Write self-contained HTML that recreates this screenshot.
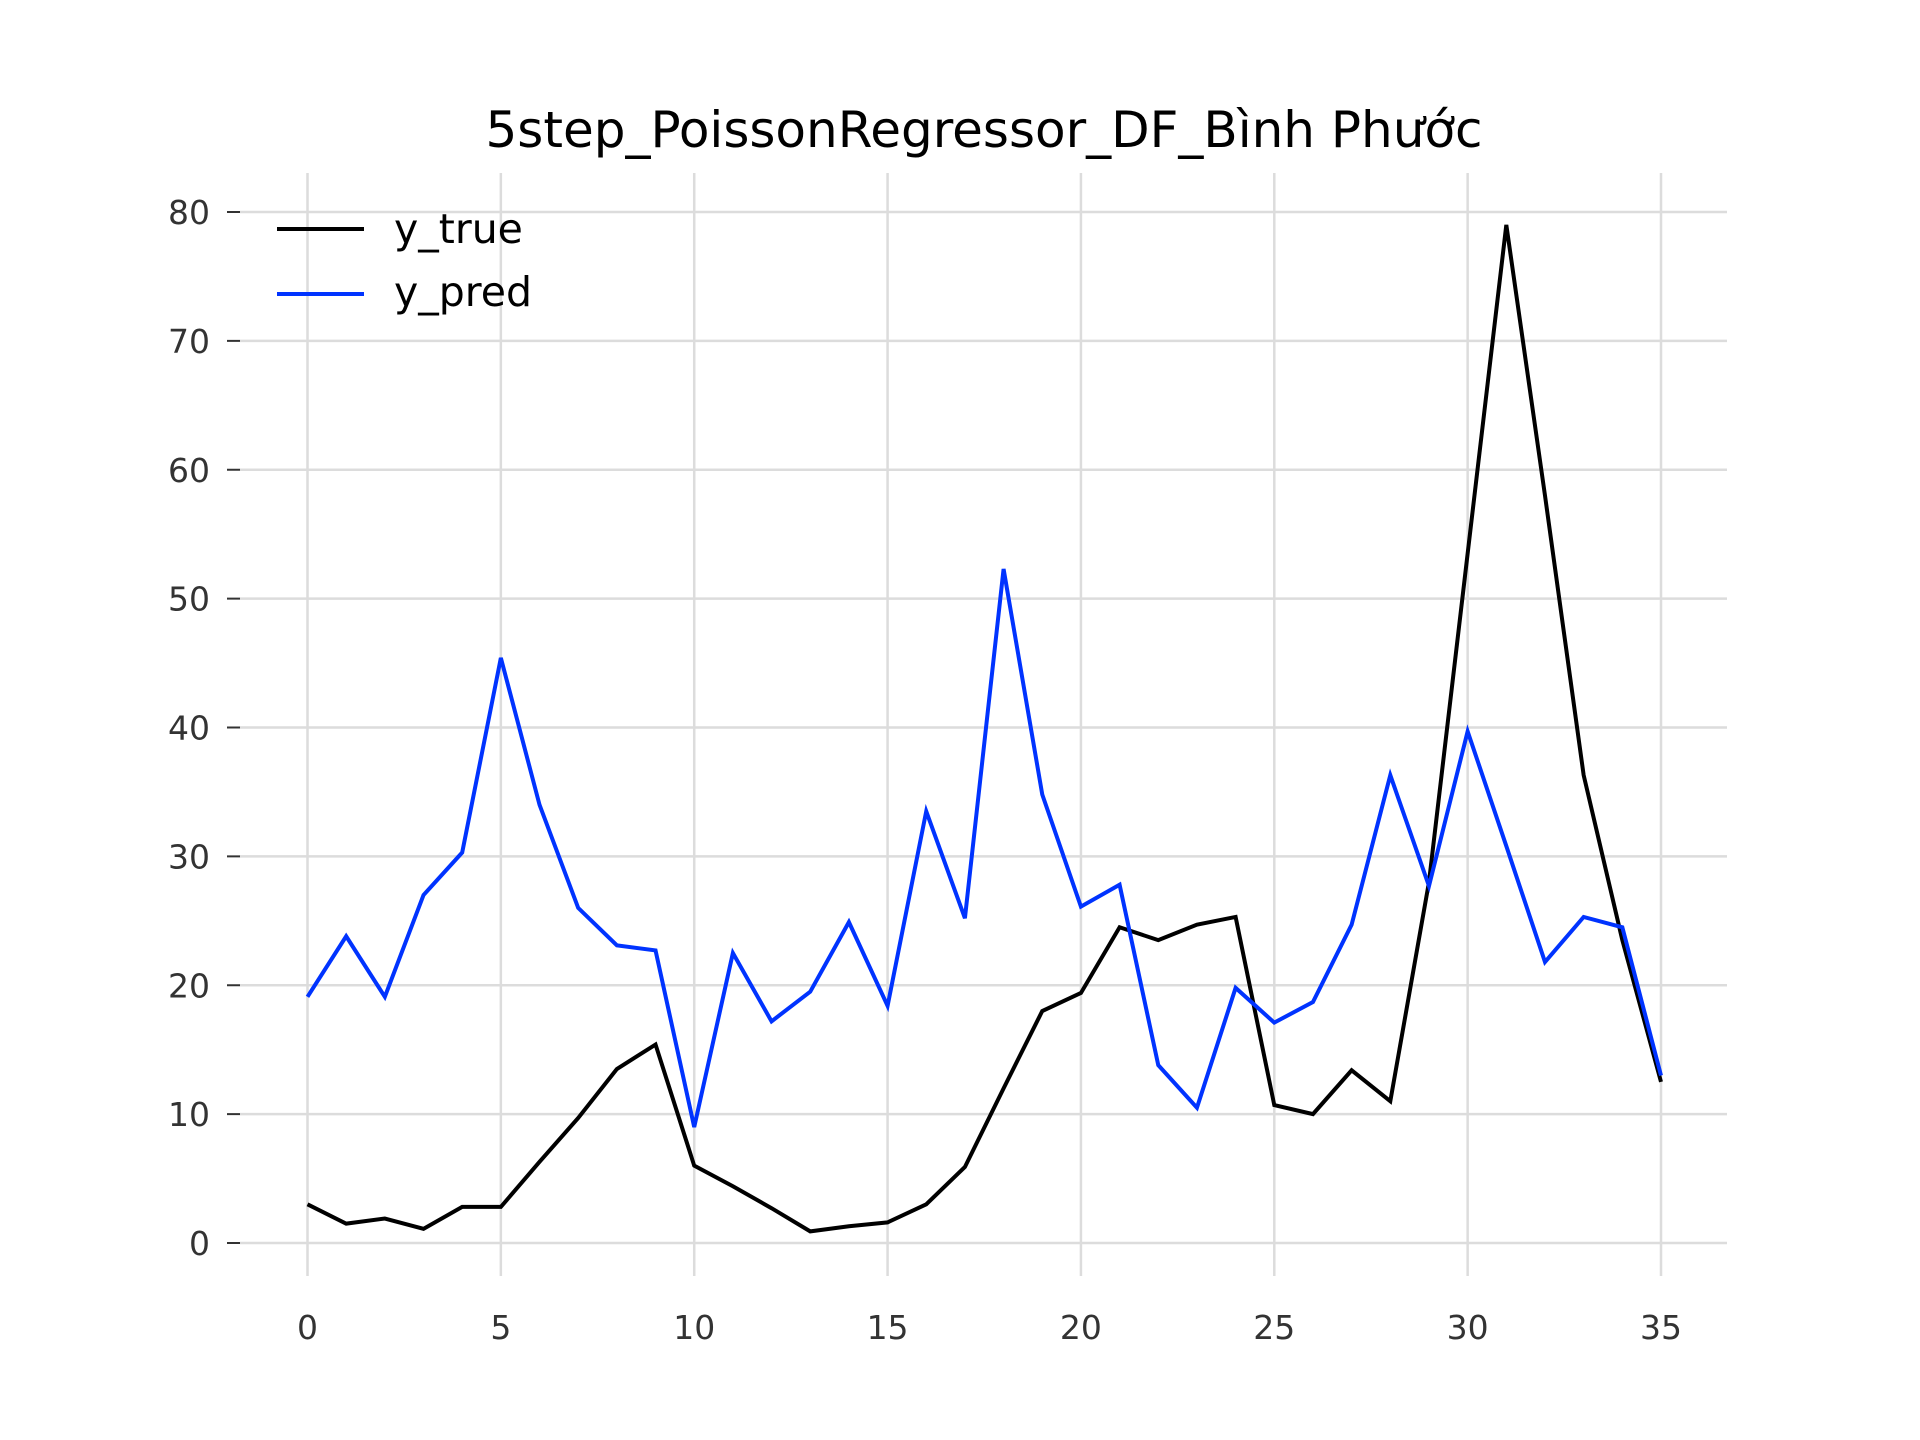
<!DOCTYPE html>
<html><head><meta charset="utf-8"><style>
html,body{margin:0;padding:0;background:#fff}
svg{display:block;font-family:"DejaVu Sans","Liberation Sans",sans-serif}
</style></head><body>
<svg id="chart" width="1920" height="1440" viewBox="0 0 1920 1440" xmlns="http://www.w3.org/2000/svg">
<rect width="1920" height="1440" fill="#fff"/>
<text x="984" y="147" font-size="50" text-anchor="middle" fill="#000">5step_PoissonRegressor_DF_Bình Phước</text>
<g id="grid"></g><g id="ticks"></g><g id="series"></g>
<g>
<line x1="277" x2="364" y1="229" y2="229" stroke="#000" stroke-width="4"/>
<text x="394" y="243" font-size="41" fill="#000">y_true</text>
<line x1="277" x2="364" y1="294" y2="294" stroke="#0033ff" stroke-width="4"/>
<text x="394" y="306" font-size="41" fill="#000">y_pred</text>
</g>
</svg>
<script>
const yTrue=[3,1.5,1.9,1.1,2.8,2.8,6.3,9.7,13.5,15.4,6,4.4,2.7,0.9,1.3,1.6,3,5.9,12,18,19.4,24.5,23.5,24.7,25.3,10.7,10,13.4,11,28,53.5,79,58,36.3,23.5,12.5];
const yPred=[19.1,23.8,19.1,27,30.3,45.4,34,26,23.1,22.7,9,22.5,17.2,19.5,24.9,18.4,33.5,25.2,52.3,34.8,26.1,27.8,13.8,10.5,19.8,17.1,18.7,24.7,36.3,27.7,39.7,30.8,21.8,25.3,24.5,13];
const xTicks=[0,5,10,15,20,25,30,35];
const yTicks=[0,10,20,30,40,50,60,70,80];
const NS='http://www.w3.org/2000/svg';
const X=v=>307.5+v*(1661-307.5)/35;
const Y=v=>1243-v*(1243-212)/80;
function mk(tag,attrs,parent){const e=document.createElementNS(NS,tag);for(const k in attrs)e.setAttribute(k,attrs[k]);parent.appendChild(e);return e;}
const grid=document.getElementById('grid'),ticks=document.getElementById('ticks'),series=document.getElementById('series');
xTicks.forEach(t=>{
  const g=mk('line',{x1:X(t),x2:X(t),y1:173,y2:1276,stroke:'#dcdcdc','stroke-width':2.5},grid);
  
  
  const l=mk('text',{x:X(t),y:1339,'font-size':33,'text-anchor':'middle',fill:'#333'},ticks);
  l.textContent=t;
  
  
});
yTicks.forEach(t=>{
  const g=mk('line',{x1:240,x2:1727,y1:Y(t),y2:Y(t),stroke:'#dcdcdc','stroke-width':2.5},grid);
  
  
  const m=mk('line',{x1:227,x2:240,y1:Y(t),y2:Y(t),stroke:'#333','stroke-width':2},ticks);
  
  
  const l=mk('text',{x:210,y:Y(t)+12,'font-size':33,'text-anchor':'end',fill:'#333'},ticks);
  l.textContent=t;
  
  
});
function line(data,color,name){
  const p=mk('polyline',{points:data.map((v,i)=>X(i)+','+Y(v)).join(' '),fill:'none',stroke:color,'stroke-width':4,'stroke-linejoin':'miter'},series);
  
  
}
line(yTrue,'#000','series-y-true');
line(yPred,'#0033ff','series-y-pred');
</script>
</body></html>
